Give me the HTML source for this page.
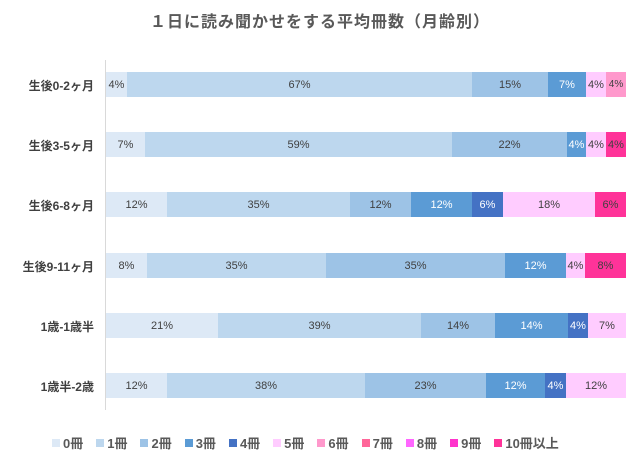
<!DOCTYPE html><html><head><meta charset="utf-8"><style>
body{margin:0;width:640px;height:462px;background:#fff;font-family:"Liberation Sans","Noto Sans CJK JP",sans-serif;position:relative;overflow:hidden}
.t{position:absolute;top:8px;left:0;width:640px;text-align:center;font-size:16px;font-weight:bold;color:#595959;letter-spacing:1px}
.c{position:absolute;right:546px;font-size:12px;font-weight:bold;color:#404040;white-space:nowrap}
.s{position:absolute;height:25px;font-size:11px;color:#404040;display:flex;align-items:center;justify-content:center;overflow:visible;white-space:nowrap}
.w{color:#fff}
.ax{position:absolute;left:105px;top:60px;width:1px;height:350px;background:#d9d9d9}
.lg{position:absolute;top:433px;left:52px;font-size:13px;font-weight:bold;color:#595959;display:flex;gap:13px}
.lg span{display:flex;align-items:center}
.lg i{display:inline-block;width:8px;height:8px;margin-right:3px}
</style></head><body>
<div class="t">１日に読み聞かせをする平均冊数（月齢別）</div>
<div class="ax"></div>
<div class="c" style="top:77px">生後0-2ヶ月</div>
<div class="c" style="top:137px">生後3-5ヶ月</div>
<div class="c" style="top:197px">生後6-8ヶ月</div>
<div class="c" style="top:258px">生後9-11ヶ月</div>
<div class="c" style="top:318px">1歳-1歳半</div>
<div class="c" style="top:378px">1歳半-2歳</div>

<div class="s" style="top:72px;left:106px;width:21px;background:#dde9f6">4%</div>
<div class="s" style="top:72px;left:127px;width:345px;background:#bdd7ee">67%</div>
<div class="s" style="top:72px;left:472px;width:76px;background:#9dc3e6">15%</div>
<div class="s w" style="top:72px;left:548px;width:38px;background:#5b9bd5">7%</div>
<div class="s" style="top:72px;left:586px;width:20px;background:#ffccff">4%</div>
<div class="s" style="top:72px;left:606px;width:20px;background:#ff99cc;font-size:10px">4%</div>

<div class="s" style="top:132px;left:106px;width:39px;background:#dde9f6">7%</div>
<div class="s" style="top:132px;left:145px;width:307px;background:#bdd7ee">59%</div>
<div class="s" style="top:132px;left:452px;width:115px;background:#9dc3e6">22%</div>
<div class="s w" style="top:132px;left:567px;width:19px;background:#5b9bd5">4%</div>
<div class="s" style="top:132px;left:586px;width:20px;background:#ffccff">4%</div>
<div class="s" style="top:132px;left:606px;width:20px;background:#ff3399">4%</div>

<div class="s" style="top:192px;left:106px;width:61px;background:#dde9f6">12%</div>
<div class="s" style="top:192px;left:167px;width:183px;background:#bdd7ee">35%</div>
<div class="s" style="top:192px;left:350px;width:61px;background:#9dc3e6">12%</div>
<div class="s w" style="top:192px;left:411px;width:61px;background:#5b9bd5">12%</div>
<div class="s w" style="top:192px;left:472px;width:31px;background:#4472c4">6%</div>
<div class="s" style="top:192px;left:503px;width:92px;background:#ffccff">18%</div>
<div class="s" style="top:192px;left:595px;width:31px;background:#ff3399">6%</div>

<div class="s" style="top:253px;left:106px;width:41px;background:#dde9f6">8%</div>
<div class="s" style="top:253px;left:147px;width:179px;background:#bdd7ee">35%</div>
<div class="s" style="top:253px;left:326px;width:179px;background:#9dc3e6">35%</div>
<div class="s w" style="top:253px;left:505px;width:61px;background:#5b9bd5">12%</div>
<div class="s" style="top:253px;left:566px;width:19px;background:#ffccff">4%</div>
<div class="s" style="top:253px;left:585px;width:41px;background:#ff3399">8%</div>

<div class="s" style="top:313px;left:106px;width:112px;background:#dde9f6">21%</div>
<div class="s" style="top:313px;left:218px;width:203px;background:#bdd7ee">39%</div>
<div class="s" style="top:313px;left:421px;width:74px;background:#9dc3e6">14%</div>
<div class="s w" style="top:313px;left:495px;width:73px;background:#5b9bd5">14%</div>
<div class="s w" style="top:313px;left:568px;width:20px;background:#4472c4">4%</div>
<div class="s" style="top:313px;left:588px;width:38px;background:#ffccff">7%</div>

<div class="s" style="top:373px;left:106px;width:61px;background:#dde9f6">12%</div>
<div class="s" style="top:373px;left:167px;width:198px;background:#bdd7ee">38%</div>
<div class="s" style="top:373px;left:365px;width:121px;background:#9dc3e6">23%</div>
<div class="s w" style="top:373px;left:486px;width:59px;background:#5b9bd5">12%</div>
<div class="s w" style="top:373px;left:545px;width:21px;background:#4472c4">4%</div>
<div class="s" style="top:373px;left:566px;width:60px;background:#ffccff">12%</div>

<div class="lg">
<span><i style="background:#dde9f6"></i>0冊</span>
<span><i style="background:#bdd7ee"></i>1冊</span>
<span><i style="background:#9dc3e6"></i>2冊</span>
<span><i style="background:#5b9bd5"></i>3冊</span>
<span><i style="background:#4472c4"></i>4冊</span>
<span><i style="background:#ffccff"></i>5冊</span>
<span><i style="background:#ff99cc"></i>6冊</span>
<span><i style="background:#ff6699"></i>7冊</span>
<span><i style="background:#ff66ff"></i>8冊</span>
<span><i style="background:#ff33cc"></i>9冊</span>
<span><i style="background:#ff3399"></i>10冊以上</span>
</div>
</body></html>
